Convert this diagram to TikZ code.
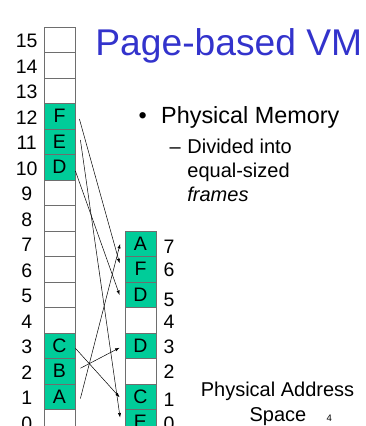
\documentclass[tikz,border=0pt]{standalone}
\usepackage{fontspec}
\setmainfont{Liberation Sans}
\usetikzlibrary{calc,arrows.meta}
\definecolor{cellgreen}{RGB}{0,204,153}
\definecolor{cellgray}{RGB}{110,110,110}
\definecolor{titleblue}{RGB}{51,51,204}
\tikzset{
  memcell/.style={draw=cellgray, line width=0.8pt, minimum width=31pt, minimum height=25.5pt, inner sep=0pt,
    font=\fontsize{19.5}{22}\selectfont},
  usedcell/.style={memcell, fill=cellgreen},
  freecell/.style={memcell, fill=white},
  rowno/.style={anchor=base, inner sep=0pt, font=\fontsize{19.5}{22}\selectfont},
  maplink/.style={-{Latex[length=4.5pt,width=3.2pt]}, line width=0.5pt, black},
  bodytext/.style={anchor=base west, inner sep=0pt}
}
\begin{document}
\begin{tikzpicture}[x=1pt,y=-1pt]
\useasboundingbox (0,0) rectangle (365,426);
\fill[white] (0,0) rectangle (365,426);
\clip (0,0) rectangle (365,426);
% left column (virtual pages)
\foreach \k/\t/\s in {15//freecell,14//freecell,13//freecell,12/F/usedcell,11/E/usedcell,10/D/usedcell,
  9//freecell,8//freecell,7//freecell,6//freecell,5//freecell,4//freecell,3/C/usedcell,2/B/usedcell,1/A/usedcell,0//freecell}{
  \node[\s] (L\k) at (59.5,{39.75+(15-\k)*25.5}) {\t};
  \node[rowno] (nL\k) at (26.7,{47.75+(15-\k)*25.5}) {\k};
}
% right column (physical frames)
\foreach \k/\t/\s/\d in {7/A/usedcell/9.5,6/F/usedcell/7.5,5/D/usedcell/12,4//freecell/8,3/D/usedcell/7.5,2//freecell/7,1/C/usedcell/10,0/E/usedcell/8}{
  \node[\s] (R\k) at (140.5,{39.75+(15-\k)*25.5}) {\t};
  \node[rowno, anchor=base west] (nR\k) at (163.5,{39.75+(15-\k)*25.5+\d}) {\k};
}
% mappings
\draw[maplink] ($(L12.east)+(4,2.75)$) -- ($(R6.west)+(-5,-6)$);
\draw[maplink] ($(L11.east)+(5,-1.75)$) -- ($(R0.west)+(-4.5,-4.75)$);
\draw[maplink] ($(L10.east)+(0,3.75)$) -- ($(R5.west)+(-5,0.25)$);
\draw[maplink] ($(L3.east)+(0,2.5)$) -- ($(R1.west)+(-5,0.5)$);
\draw[maplink] ($(L2.east)+(5,-3)$) -- ($(R3.west)+(-5,2)$);
\draw[maplink] ($(L1.east)+(5,1.75)$) -- ($(R7.west)+(-4.5,0.25)$);
% texts
\node[bodytext, text=titleblue, font=\fontsize{37.2}{40}\selectfont] (title) at (95.2,55) {Page-based VM};
\node[bodytext, font=\fontsize{23.4}{26}\selectfont] (bul) at (138.5,123.3) {•};
\node[bodytext, font=\fontsize{23.4}{26}\selectfont] (pm) at (161,123.3) {Physical Memory};
\node[bodytext, font=\fontsize{20}{24}\selectfont] (dash) at (169.5,153.3) {–};
\node[bodytext, font=\fontsize{20}{24}\selectfont] (l1) at (187.2,153.3) {Divided into};
\node[bodytext, font=\fontsize{20}{24}\selectfont] (l2) at (187.2,177) {equal-sized};
\node[bodytext, font=\fontsize{20}{24}\selectfont\itshape] (l3) at (187.2,201.2) {frames};
\node[anchor=base, inner sep=0pt, font=\fontsize{20}{24}\selectfont] (pa1) at (277.5,396.7) {Physical Address};
\node[anchor=base, inner sep=0pt, font=\fontsize{20}{24}\selectfont] (pa2) at (278,421.7) {Space};
\node[bodytext, font=\fontsize{9.5}{11}\selectfont] (pgno) at (326.3,421.7) {4};
\end{tikzpicture}
\end{document}
